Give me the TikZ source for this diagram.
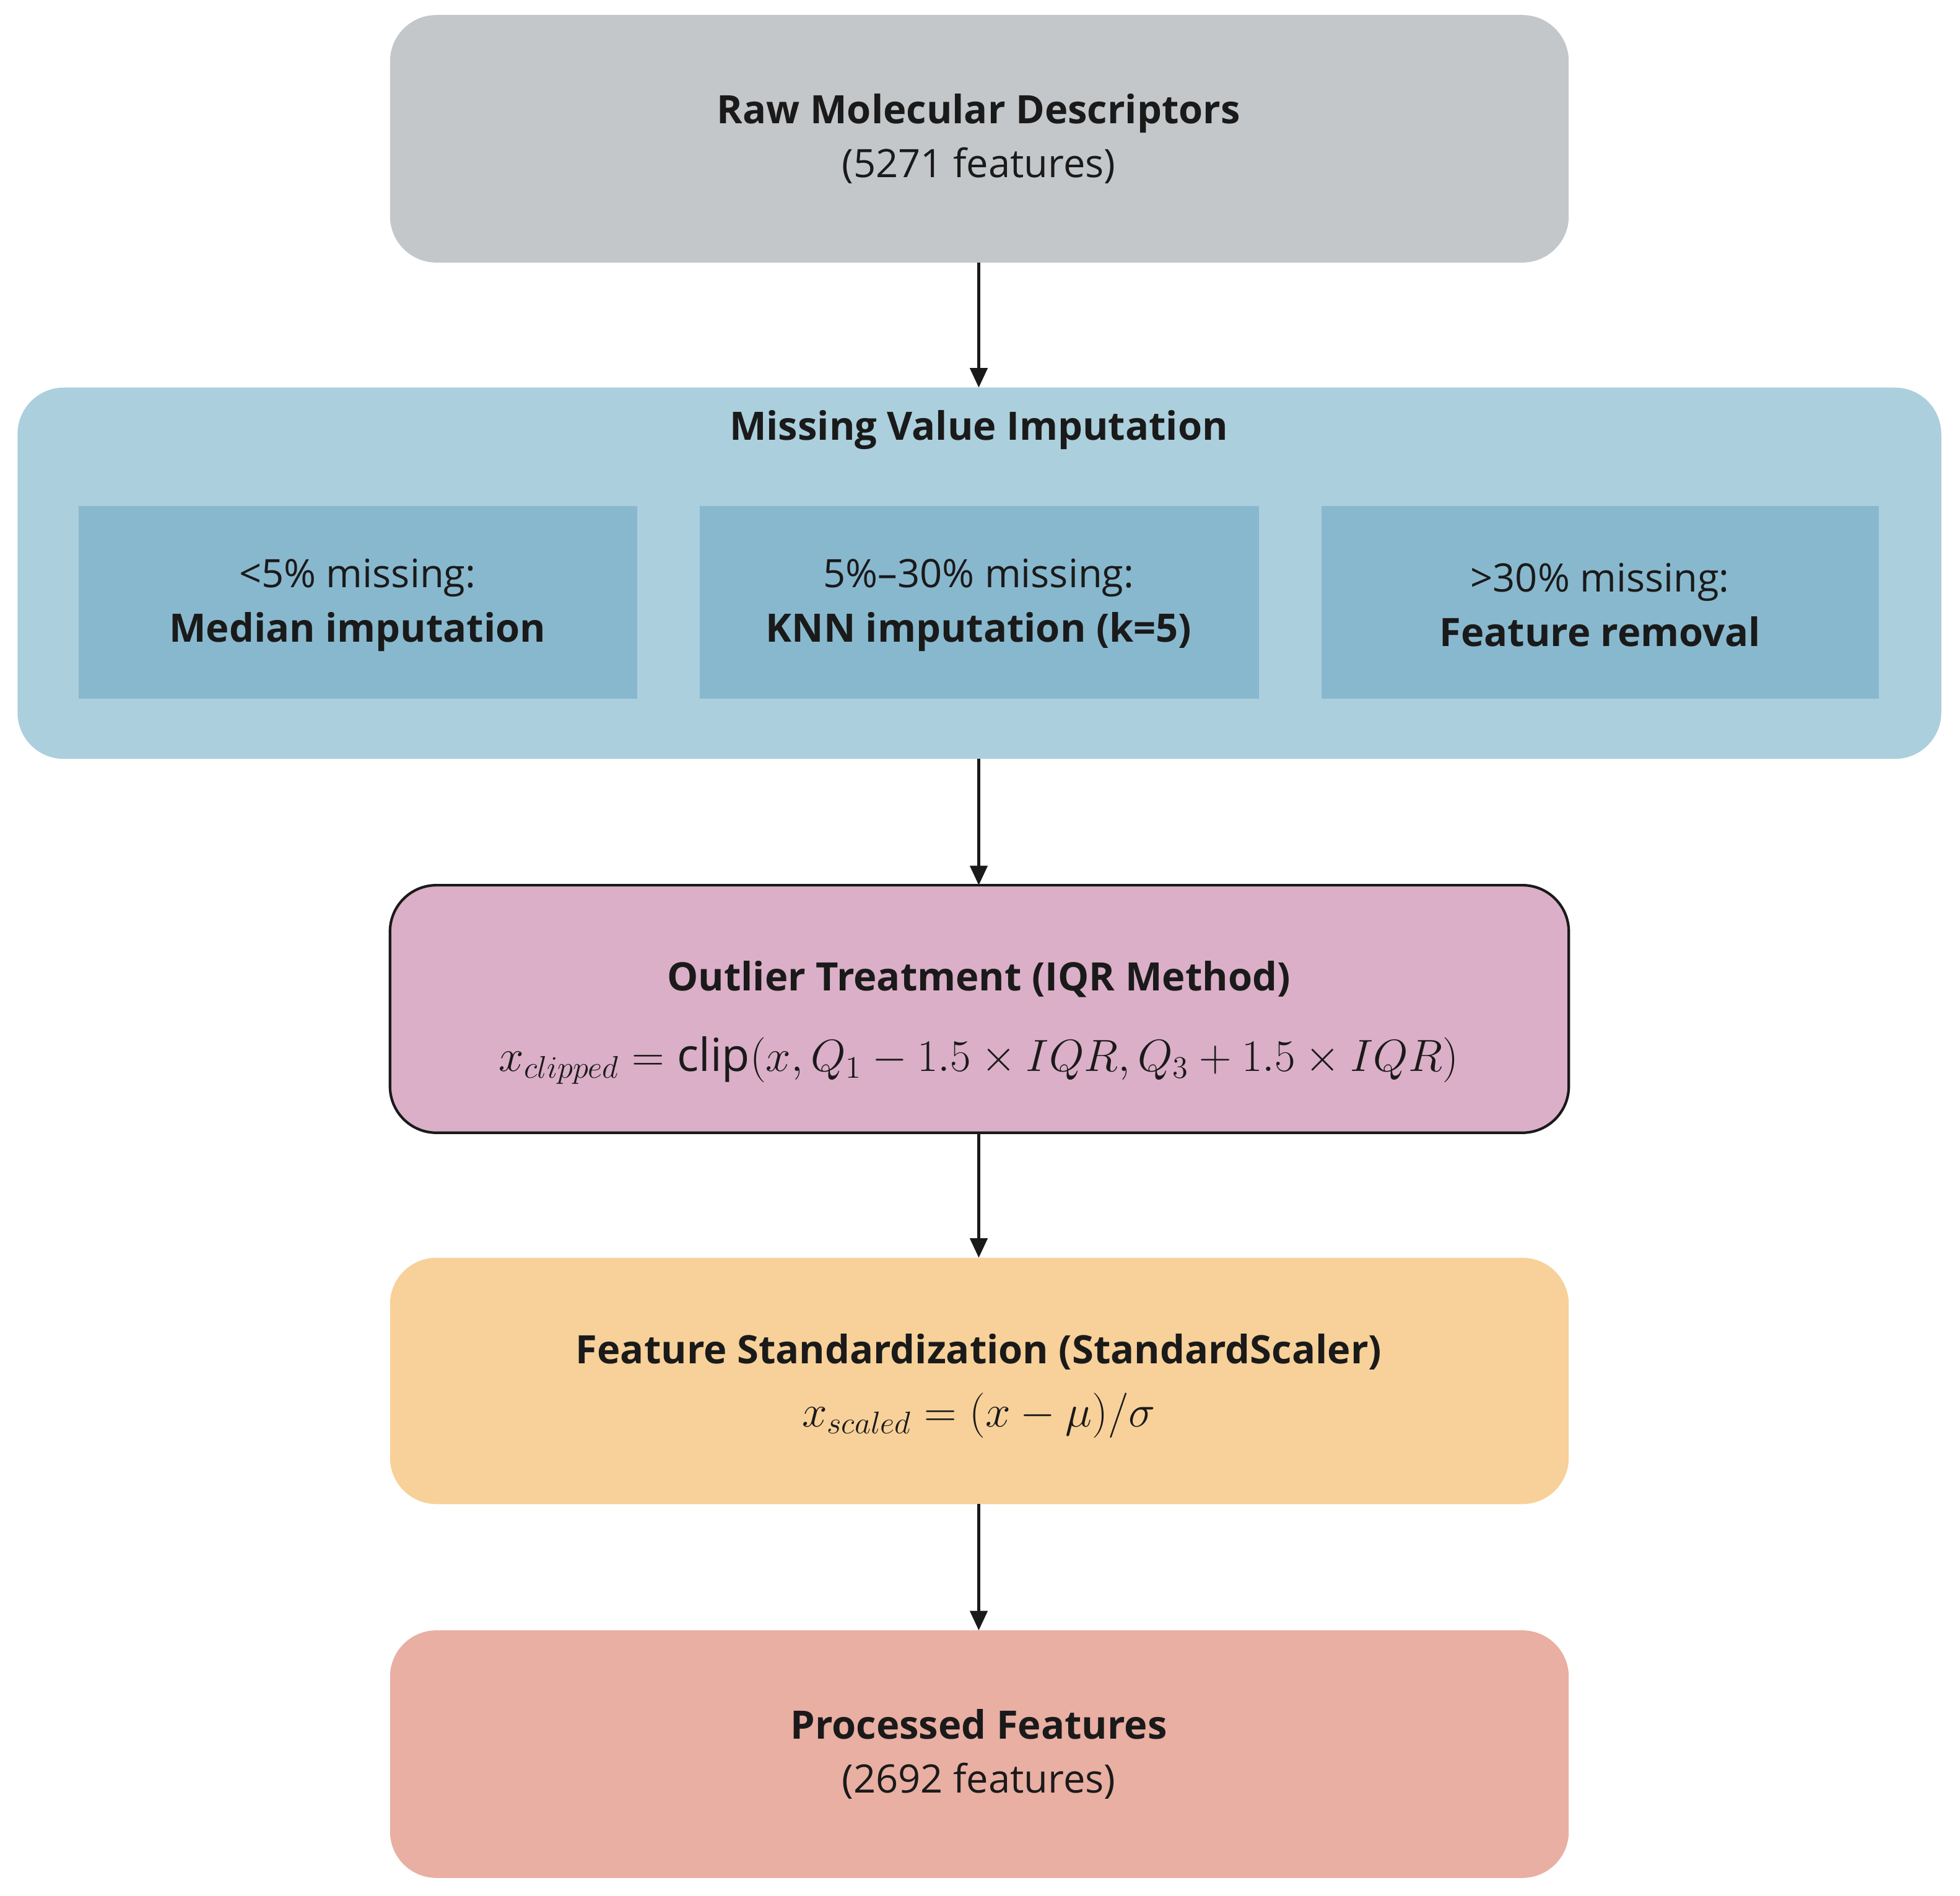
\documentclass[tikz,border=0pt]{standalone}
\usepackage{fontspec}
\setmainfont{Open Sans}
\usetikzlibrary{arrows.meta}
\definecolor{cgray}{HTML}{C4C7CA}
\definecolor{cblue}{HTML}{ABCFDD}
\definecolor{cblued}{HTML}{88B8CE}
\definecolor{cpink}{HTML}{DBAFC8}
\definecolor{corange}{HTML}{F7D199}
\definecolor{csalmon}{HTML}{E9AFA3}
\definecolor{ctext}{HTML}{1A1A1A}
\begin{document}
\begin{tikzpicture}[x=0.0202cm,y=-0.0202cm,
  box/.style={rounded corners=0.75cm,draw=none},
  sub/.style={fill=cblued,draw=none},
  txt/.style={text=ctext,align=center,font=\fontsize{18}{25}\selectfont},
  arr/.style={-{Triangle[length=9pt,width=8pt]},line width=1.3pt,draw=ctext}]
\useasboundingbox (0,0) rectangle (1568,1516);
\fill[box,cgray] (312,12) rectangle (1255,210);
\node[txt] (raw) at (783,111) {\textbf{Raw Molecular Descriptors}\\(5271 features)};
\coordinate (rawb) at (783,210);
\fill[box,cblue] (14,310) rectangle (1553,607);
\coordinate (mt) at (783,310);
\coordinate (mb) at (783,607);
\node[txt] (mtitle) at (783,344) {\textbf{Missing Value Imputation}};
\fill[sub] (63,405) rectangle (510,559);
\fill[sub] (560,405) rectangle (1007,559);
\fill[sub] (1057,405) rectangle (1503,559);
\node[txt] (s1) at (286,484) {<5\% missing:\\\textbf{Median imputation}};
\node[txt] (s2) at (783,484) {5\%–30\% missing:\\\textbf{KNN imputation (k=5)}};
\node[txt] (s3) at (1280,484) {>30\% missing:\\\textbf{Feature removal}};
\draw[box,fill=cpink,draw=ctext,line width=1.2pt] (312,708) rectangle (1255,906);
\coordinate (ot) at (783,708);
\coordinate (ob) at (783,906);
\node[txt] (otitle) at (783,783) {\textbf{Outlier Treatment (IQR Method)}};
\node[text=ctext,font=\fontsize{21}{25}\selectfont] (of) at (783,848) {$x_{clipped} = \mathrm{clip}(x, Q_1 - 1.5 \times IQR, Q_3 + 1.5 \times IQR)$};
\fill[box,corange] (312,1006) rectangle (1255,1203);
\coordinate (st) at (783,1006);
\coordinate (sb) at (783,1203);
\node[txt] (stitle) at (783,1081) {\textbf{Feature Standardization (StandardScaler)}};
\node[text=ctext,font=\fontsize{22}{25}\selectfont] (sf) at (783,1132) {$x_{scaled} = (x - \mu)/\sigma$};
\fill[box,csalmon] (312,1304) rectangle (1255,1502);
\coordinate (pt) at (783,1304);
\node[txt] (proc) at (783,1403) {\textbf{Processed Features}\\(2692 features)};
\draw[arr] (rawb) -- (mt);
\draw[arr] (mb) -- (ot);
\draw[arr] (ob) -- (st);
\draw[arr] (sb) -- (pt);
\end{tikzpicture}
\end{document}
